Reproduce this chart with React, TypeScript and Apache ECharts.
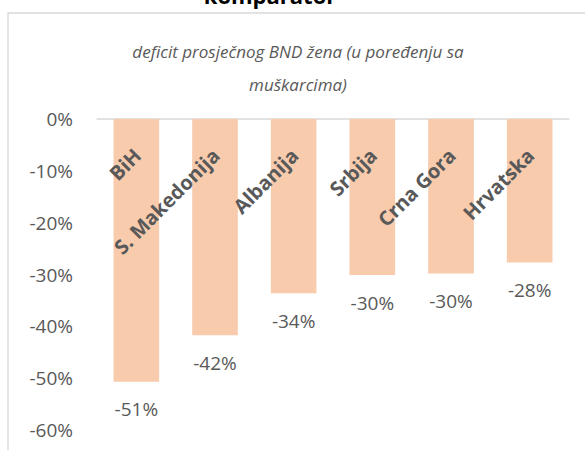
import React, { useEffect, useRef } from "react";
import * as echarts from "echarts";

const categories = ["BiH", "S. Makedonija", "Albanija", "Srbija", "Crna Gora", "Hrvatska"];
const values = [-50.7, -41.7, -33.6, -30.1, -29.8, -27.7];
const yTicks = { min: -60, max: 0, interval: 10 };
const titleText = "komparator";
const subtitleLines = ["deficit prosječnog BND žena (u poređenju sa", "muškarcima)"];

const FONT = "'Open Sans', sans-serif";
const GRAY = "#595959";

export default function App() {
  const ref = useRef<HTMLDivElement>(null);
  useEffect(() => {
    if (!ref.current) return;
    const chart = echarts.init(ref.current, null, { renderer: "svg" });
    chart.setOption({
      animation: false,
      backgroundColor: "#ffffff",
      graphic: [
        {
          type: "rect",
          shape: { x: 8, y: 13, width: 700, height: 600 },
          style: { fill: "none", stroke: "#d9d9d9", lineWidth: 1.3 },
          silent: true,
        },
        {
          type: "text",
          x: 270,
          y: 6,
          style: {
            text: titleText,
            font: `bold 22px ${FONT}`,
            fill: "#000000",
            align: "center",
            verticalAlign: "bottom",
          },
        },
        {
          type: "text",
          x: 298,
          y: 51,
          style: {
            text: subtitleLines[0],
            font: `italic 17px ${FONT}`,
            fill: GRAY,
            align: "center",
            verticalAlign: "middle",
          },
        },
        {
          type: "text",
          x: 298,
          y: 84,
          style: {
            text: subtitleLines[1],
            font: `italic 17px ${FONT}`,
            fill: GRAY,
            align: "center",
            verticalAlign: "middle",
          },
        },
      ],
      grid: { left: 97, right: 16, top: 119, bottom: 20, containLabel: false, outerBoundsMode: "none" },
      xAxis: {
        type: "category",
        data: categories,
        position: "top",
        axisLine: { show: true, onZero: false, lineStyle: { color: "#d9d9d9", width: 1.5 } },
        axisTick: { show: false },
        axisLabel: { show: false },
      },
      yAxis: {
        type: "value",
        min: yTicks.min,
        max: yTicks.max,
        interval: yTicks.interval,
        axisLine: { show: false },
        axisTick: { show: false },
        splitLine: { show: false },
        axisLabel: {
          margin: 24,
          color: GRAY,
          fontSize: 19,
          fontFamily: FONT,
          formatter: (v: number) => `${v}%`,
        },
      },
      series: [
        {
          type: "bar",
          data: values,
          barWidth: "58%",
          itemStyle: { color: "#f8cbad" },
          label: {
            show: true,
            position: "bottom",
            distance: 18,
            color: GRAY,
            fontSize: 19,
            fontFamily: FONT,
            formatter: (p: any) => `${Math.round(p.value)}%`,
          },
        },
        {
          type: "scatter",
          data: categories.map((c) => [c, 0]),
          symbolSize: 0.1,
          itemStyle: { color: GRAY, opacity: 1 },
          z: 5,
          silent: true,
          label: {
            show: true,
            position: [1, 33],
            rotate: 45,
            align: "right",
            verticalAlign: "middle",
            color: GRAY,
            opacity: 1,
            fontWeight: "bold",
            fontSize: 20,
            fontFamily: FONT,
            formatter: (p: any) => categories[p.dataIndex],
          },
        },
      ],
    });
    return () => chart.dispose();
  }, []);
  return <div ref={ref} style={{ width: 585, height: 450, position: "absolute", left: 0, top: 0 }} />;
}
